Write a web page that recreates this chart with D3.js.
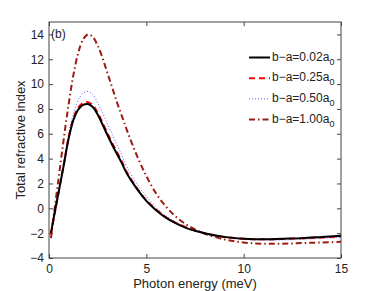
<!DOCTYPE html>
<meta charset="utf-8">
<script src="https://d3js.org/d3.v7.min.js"></script>
<style>
  body { margin: 0; background: #fff; }
  text { font-family: "Liberation Sans", Arial, sans-serif; fill: #222; }
</style>
<div id="my_dataviz"></div>
<script>

// photon energy (meV) sample points
var energy = [0.1, 0.25, 0.5, 0.75, 1, 1.25, 1.5, 1.75, 2, 2.25, 2.5, 2.75, 3, 3.25, 3.5, 3.75, 4, 4.5, 5, 5.5, 6, 6.5, 7, 7.5, 8, 9, 10, 11, 12, 13, 14, 15];

// total refractive index for each b-a
var n002 = [-2.0, -0.7, 1.35, 3.4, 5.55, 7.1, 7.95, 8.32, 8.4, 8.15, 7.55, 6.75, 5.9, 5.1, 4.35, 3.6, 2.8, 1.6, 0.6, -0.15, -0.75, -1.2, -1.55, -1.8, -2.0, -2.3, -2.45, -2.5, -2.45, -2.4, -2.3, -2.2];
var n025 = [-2.1, -0.75, 1.35, 3.45, 5.65, 7.2, 8.1, 8.47, 8.55, 8.3, 7.7, 6.9, 6.05, 5.25, 4.5, 3.75, 2.9, 1.65, 0.65, -0.1, -0.7, -1.15, -1.5, -1.78, -2.0, -2.3, -2.45, -2.5, -2.47, -2.42, -2.35, -2.25];
var n050 = [-2.1, -0.7, 1.5, 3.7, 5.9, 7.6, 8.7, 9.27, 9.4, 9.15, 8.5, 7.7, 6.8, 5.95, 5.1, 4.25, 3.35, 2.0, 0.95, 0.05, -0.6, -1.1, -1.5, -1.8, -2.02, -2.35, -2.5, -2.55, -2.55, -2.5, -2.42, -2.35];
var n100 = [-2.4, -0.5, 2.5, 5.5, 8.3, 10.7, 12.5, 13.6, 14.0, 13.8, 13.1, 12.1, 10.9, 9.7, 8.5, 7.4, 6.3, 4.3, 2.6, 1.2, 0.15, -0.65, -1.25, -1.7, -2.05, -2.5, -2.75, -2.85, -2.85, -2.8, -2.75, -2.7];

var labels = ["0.02", "0.25", "0.50", "1.00"];
var xTicks = [0, 5, 10, 15];
var yTicks = [-4, -2, 0, 2, 4, 6, 8, 10, 12, 14];

var series = [
  {name: labels[0], values: n002, color: "#000000", width: 2, dash: null},
  {name: labels[1], values: n025, color: "#ff0000", width: 2, dash: "6,4"},
  {name: labels[2], values: n050, color: "#5b5bff", width: 1, dash: "1,2"},
  {name: labels[3], values: n100, color: "#9b1c12", width: 2, dash: "6,3,1.5,3"}
];

var margin = {top: 22, right: 36, bottom: 33, left: 49},
    width = 377 - margin.left - margin.right,
    height = 291 - margin.top - margin.bottom;

var svg = d3.select("#my_dataviz")
  .append("svg")
    .attr("width", 377)
    .attr("height", 291)
  .append("g")
    .attr("transform", "translate(" + margin.left + "," + margin.top + ")");

var x = d3.scaleLinear().domain([0, 15]).range([0, width]);
var y = d3.scaleLinear().domain([-4, 15]).range([height, 0]);

// ticks pointing inward on all sides
function styleAxis(g) {
  g.select(".domain").remove();
  g.selectAll("line").attr("stroke", "#444");
  g.selectAll("text").style("font-size", "12px").attr("fill", "#222");
}
svg.append("g")
  .attr("transform", "translate(0," + height + ")")
  .call(d3.axisBottom(x).tickValues(xTicks).tickSizeInner(-4).tickSizeOuter(0).tickPadding(6))
  .call(styleAxis);
svg.append("g")
  .call(d3.axisTop(x).tickValues(xTicks).tickSizeInner(-4).tickSizeOuter(0).tickFormat(""))
  .call(styleAxis);
svg.append("g")
  .call(d3.axisLeft(y).tickValues(yTicks).tickSizeInner(-4).tickSizeOuter(0).tickPadding(5))
  .call(styleAxis);
svg.append("g")
  .attr("transform", "translate(" + width + ",0)")
  .call(d3.axisRight(y).tickValues(yTicks).tickSizeInner(-4).tickSizeOuter(0).tickFormat(""))
  .call(styleAxis);

// frame
svg.append("rect")
  .attr("width", width).attr("height", height)
  .attr("fill", "none").attr("stroke", "#444").attr("stroke-width", 1);

var line = d3.line()
  .x(function(d, i) { return x(energy[i]); })
  .y(function(d) { return y(d); })
  .curve(d3.curveCatmullRom.alpha(0.5));

svg.selectAll(".curve")
  .data(series.slice().reverse())
  .enter()
  .append("path")
    .attr("class", "curve")
    .attr("d", function(d) { return line(d.values); })
    .attr("fill", "none")
    .attr("stroke", function(d) { return d.color; })
    .attr("stroke-width", function(d) { return d.width; })
    .attr("stroke-dasharray", function(d) { return d.dash; });

// panel label
svg.append("text")
  .attr("x", 2).attr("y", 16)
  .style("font-size", "12px")
  .text("(b)");

// legend
var legend = svg.selectAll(".legend")
  .data(series)
  .enter()
  .append("g")
    .attr("transform", function(d, i) { return "translate(200," + (35.5 + i * 20.7) + ")"; });
legend.append("line")
  .attr("x1", 0).attr("x2", 21)
  .attr("stroke", function(d) { return d.color; })
  .attr("stroke-width", function(d) { return d.width; })
  .attr("stroke-dasharray", function(d) { return d.dash; });
var lt = legend.append("text")
  .attr("x", 23).attr("y", 3)
  .style("font-size", "12px");
lt.append("tspan").text(function(d) { return "b\u2212a=" + d.name + "a"; });
lt.append("tspan").attr("dy", 4).style("font-size", "9px").text("0");

// axis titles
svg.append("text")
  .attr("x", width / 2).attr("y", height + 30)
  .attr("text-anchor", "middle")
  .style("font-size", "13px")
  .text("Photon energy (meV)");
svg.append("text")
  .attr("transform", "translate(-24," + (height / 2) + ") rotate(-90)")
  .attr("text-anchor", "middle")
  .style("font-size", "13px")
  .text("Total refractive index");

</script>
